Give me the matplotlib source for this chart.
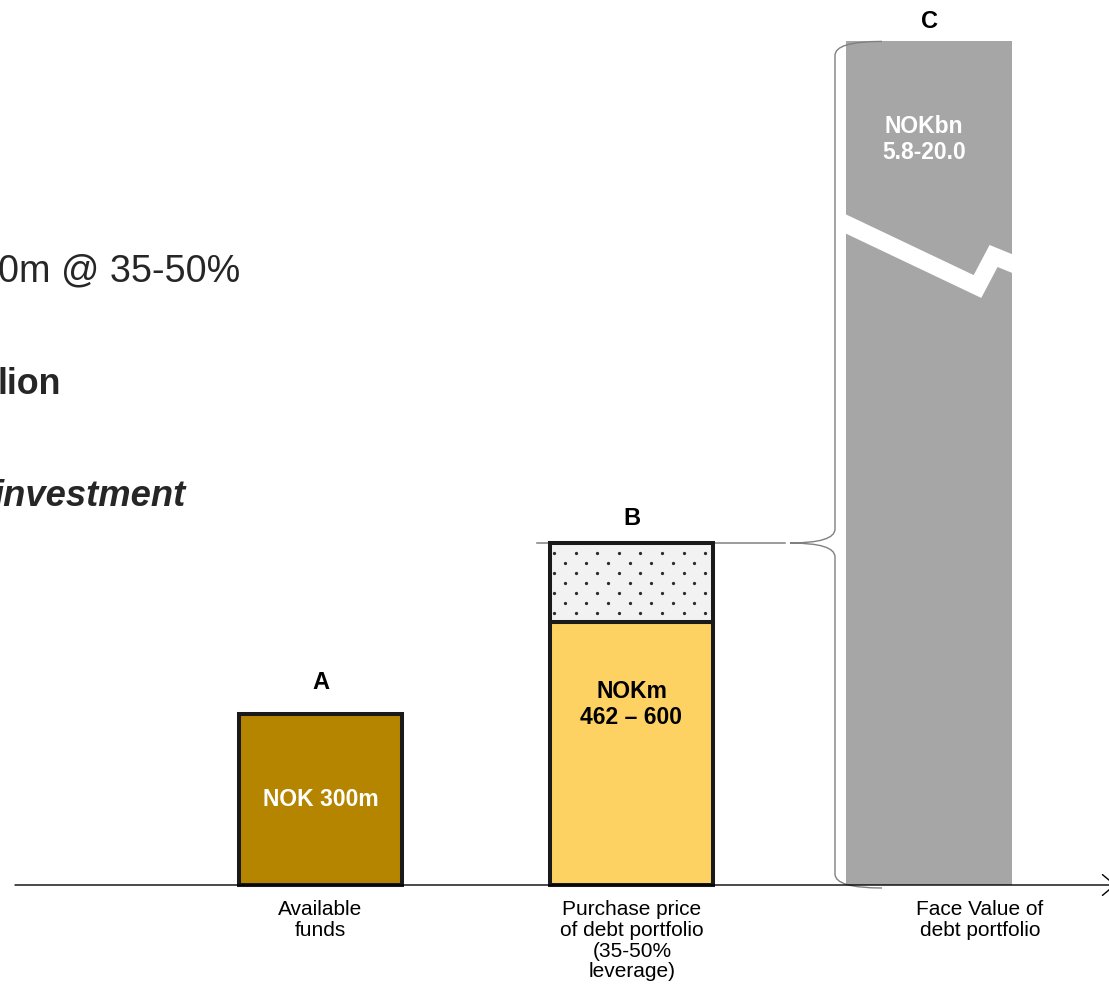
import numpy as np
import matplotlib
matplotlib.use("Agg")
import matplotlib.pyplot as plt
from matplotlib.patches import FancyArrowPatch, PathPatch
from matplotlib.path import Path

plt.rcParams["font.family"] = ["Liberation Sans", "DejaVu Sans"]

# ── Data ─────────────────────────────────────────────────────────────────────
letters      = ["A", "B", "C"]
categories   = ["Available\nfunds",
                "Purchase price\nof debt portfolio\n(35-50%\nleverage)",
                "Face Value of\ndebt portfolio"]
funds_nokm   = 300            # A
purchase_lo  = 462            # B, lower end (NOKm)
purchase_hi  = 600            # B, upper end (NOKm)
face_bn      = (5.8, 20.0)    # C, NOKbn (broken bar, not to scale)
face_display = 1480           # drawn height of the broken bar C

side_lines = ["0m @ 35-50%", "lion", "investment"]

# ── Layout ───────────────────────────────────────────────────────────────────
W, H      = 1109, 998
BASE_PX   = 885               # baseline, pixels from top
PX_PER    = 0.57              # pixels per NOKm
BAR_X     = [320.5, 631.5, 929]
BAR_W     = 163
LABEL_X   = [320, 632, 980]
C_A       = "#B58500"
C_B       = "#FDD262"
C_DOTS    = "#F2F2F2"
C_C       = "#A6A6A6"
C_BRACE   = "#808080"
TXT       = "#262626"

fig = plt.figure(figsize=(W / 100, H / 100), dpi=100)
ax = fig.add_axes([0, 0, 1, 1])
ax.set_xlim(0, W)
ax.set_ylim(-(H - BASE_PX) / PX_PER, BASE_PX / PX_PER)
ax.axis("off")

def py(px):
    """pixel row -> value units"""
    return (BASE_PX - px) / PX_PER

# ── Bars ─────────────────────────────────────────────────────────────────────
ax.bar(BAR_X[0], funds_nokm, width=BAR_W, color=C_A, edgecolor="#1a1a1a",
       linewidth=2.9, zorder=3)
ax.bar(BAR_X[1], purchase_lo, width=BAR_W, color=C_B, edgecolor="#1a1a1a",
       linewidth=2.9, zorder=3)
ax.bar(BAR_X[1], purchase_hi - purchase_lo, bottom=purchase_lo, width=BAR_W,
       color=C_DOTS, edgecolor="#1a1a1a", linewidth=2.9, zorder=3)

# staggered dot fill for the leverage part of B
bx0 = BAR_X[1] - BAR_W / 2
dot_dx, dot_dy = 21.6, 10.0 / PX_PER
rows = np.arange(purchase_hi - 1.0 * dot_dy, purchase_lo + 0.3 * dot_dy, -dot_dy)
dx_list, dy_list = [], []
for i, yv in enumerate(rows):
    xs = np.arange(bx0 + 4 + (i % 2) * dot_dx / 2, bx0 + BAR_W - 3, dot_dx)
    dx_list.extend(xs)
    dy_list.extend([yv] * len(xs))
ax.scatter(dx_list, dy_list, s=5.5, color="#2b2b2b", linewidths=0, zorder=3.5)

c_bar = ax.bar(BAR_X[2], face_display, width=BAR_W + 3, color=C_C,
               linewidth=0, zorder=2)[0]

# break in bar C
cx0 = BAR_X[2] - (BAR_W + 3) / 2
cw = BAR_W + 3
brk_fx = [-0.10, 0.006, 0.792, 0.889, 1.0, 1.11]
brk_py = [216.5, 224.5, 286.5, 256.0, 263.5, 271.0]
brk, = ax.plot([cx0 + f * cw for f in brk_fx], [py(p) for p in brk_py],
               color="white", lw=12.5, solid_joinstyle="miter",
               solid_capstyle="butt", zorder=2.5)
brk.set_clip_path(c_bar)

# ── Baseline arrow ───────────────────────────────────────────────────────────
ax.add_patch(FancyArrowPatch((15, 0), (1116, 0),
                             arrowstyle="->,head_length=0.9,head_width=0.75",
                             mutation_scale=10, lw=1.0, color="black",
                             shrinkA=0, shrinkB=0, zorder=4))

# ── Line at top of B and brace towards C ─────────────────────────────────────
ax.plot([537, 785], [purchase_hi, purchase_hi], color=C_BRACE, lw=1.1, zorder=2)

x_tip, x_sp, x_end = 790, 835, 882
y_top, y_bot = face_display, py(888)
r = 14 / PX_PER
verts = [(x_end, y_top), (x_sp, y_top), (x_sp, y_top - r),
         (x_sp, purchase_hi + r),
         (x_sp, purchase_hi), (x_tip, purchase_hi),
         (x_sp, purchase_hi), (x_sp, purchase_hi - r),
         (x_sp, y_bot + r),
         (x_sp, y_bot), (x_end, y_bot)]
codes = [Path.MOVETO, Path.CURVE3, Path.CURVE3,
         Path.LINETO,
         Path.CURVE3, Path.CURVE3,
         Path.CURVE3, Path.CURVE3,
         Path.LINETO,
         Path.CURVE3, Path.CURVE3]
ax.add_patch(PathPatch(Path(verts, codes), fill=False, edgecolor=C_BRACE,
                       lw=1.0, zorder=2.2))

# ── Letters above bars ───────────────────────────────────────────────────────
tops = [funds_nokm, purchase_hi, face_display]
pads = [18, 13, 10]
for x, t, lab, pad in zip(BAR_X, tops, letters, pads):
    ax.annotate(lab, (x, t), xytext=(0, pad), textcoords="offset points",
                ha="center", va="baseline", fontsize=17, fontweight="bold",
                color="black")

# ── Labels inside bars ───────────────────────────────────────────────────────
ax.text(BAR_X[0], funds_nokm / 2, f"NOK {funds_nokm}m", ha="center",
        va="center", fontsize=16.5, fontweight="bold", color="white", zorder=5)
ax.annotate(f"NOKm\n{purchase_lo} \u2013 {purchase_hi}", (BAR_X[1], purchase_lo),
            xytext=(0, -42), textcoords="offset points", ha="center", va="top",
            fontsize=16.5, fontweight="bold", color="black", linespacing=1.15,
            zorder=5)
ax.annotate(f"NOKbn\n{face_bn[0]:.1f}-{face_bn[1]:.1f}", (BAR_X[2] - 5, face_display),
            xytext=(0, -53), textcoords="offset points", ha="center", va="top",
            fontsize=16.5, fontweight="bold", color="white", linespacing=1.15,
            zorder=5)

# ── Category labels under the baseline ───────────────────────────────────────
for x, lab in zip(LABEL_X, categories):
    ax.text(x, py(900), lab, ha="center", va="top", fontsize=15,
            color="black", linespacing=1.12)

# ── Side text (runs off the left edge) ───────────────────────────────────────
ax.text(-2, py(271), side_lines[0], ha="left", va="center", fontsize=27.2,
        color=TXT)
ax.text(-2, py(384), side_lines[1], ha="left", va="center", fontsize=25.8,
        fontweight="bold", color=TXT)
ax.text(-7, py(497), side_lines[2], ha="left", va="center", fontsize=26.2,
        fontweight="bold", fontstyle="italic", color=TXT)

fig.savefig("out.png", dpi=100)
